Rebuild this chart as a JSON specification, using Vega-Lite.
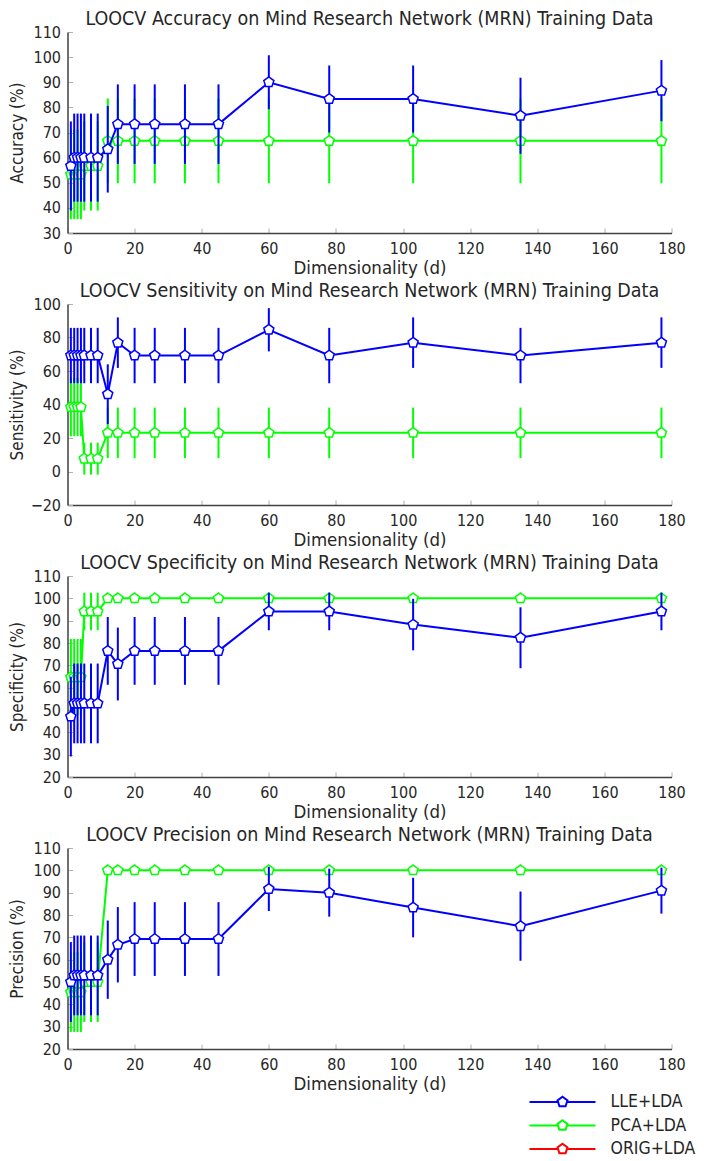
{
"$schema": "https://vega.github.io/schema/vega-lite/v6.json",
"padding": {"left": 8.5, "top": 8, "right": 5, "bottom": 1},
"background": "white",
"datasets": {"all": [
{"m":"A","s":"LLE+LDA","d":1,"v":56.67,"lo":38.93,"hi":74.40},
{"m":"A","s":"LLE+LDA","d":2,"v":60,"lo":42.47,"hi":77.53},
{"m":"A","s":"LLE+LDA","d":3,"v":60,"lo":42.47,"hi":77.53},
{"m":"A","s":"LLE+LDA","d":4,"v":60,"lo":42.47,"hi":77.53},
{"m":"A","s":"LLE+LDA","d":5,"v":60,"lo":42.47,"hi":77.53},
{"m":"A","s":"LLE+LDA","d":7,"v":60,"lo":42.47,"hi":77.53},
{"m":"A","s":"LLE+LDA","d":9,"v":60,"lo":42.47,"hi":77.53},
{"m":"A","s":"LLE+LDA","d":12,"v":63.33,"lo":46.09,"hi":80.58},
{"m":"A","s":"LLE+LDA","d":15,"v":73.33,"lo":57.51,"hi":89.16},
{"m":"A","s":"LLE+LDA","d":20,"v":73.33,"lo":57.51,"hi":89.16},
{"m":"A","s":"LLE+LDA","d":26,"v":73.33,"lo":57.51,"hi":89.16},
{"m":"A","s":"LLE+LDA","d":35,"v":73.33,"lo":57.51,"hi":89.16},
{"m":"A","s":"LLE+LDA","d":45,"v":73.33,"lo":57.51,"hi":89.16},
{"m":"A","s":"LLE+LDA","d":60,"v":90,"lo":79.26,"hi":100.74},
{"m":"A","s":"LLE+LDA","d":78,"v":83.33,"lo":70.00,"hi":96.67},
{"m":"A","s":"LLE+LDA","d":103,"v":83.33,"lo":70.00,"hi":96.67},
{"m":"A","s":"LLE+LDA","d":135,"v":76.67,"lo":61.53,"hi":91.80},
{"m":"A","s":"LLE+LDA","d":177,"v":86.67,"lo":74.50,"hi":98.83},
{"m":"A","s":"PCA+LDA","d":1,"v":53.33,"lo":35.48,"hi":71.19},
{"m":"A","s":"PCA+LDA","d":2,"v":53.33,"lo":35.48,"hi":71.19},
{"m":"A","s":"PCA+LDA","d":3,"v":53.33,"lo":35.48,"hi":71.19},
{"m":"A","s":"PCA+LDA","d":4,"v":53.33,"lo":35.48,"hi":71.19},
{"m":"A","s":"PCA+LDA","d":5,"v":56.67,"lo":38.93,"hi":74.40},
{"m":"A","s":"PCA+LDA","d":7,"v":56.67,"lo":38.93,"hi":74.40},
{"m":"A","s":"PCA+LDA","d":9,"v":56.67,"lo":38.93,"hi":74.40},
{"m":"A","s":"PCA+LDA","d":12,"v":66.67,"lo":49.80,"hi":83.54},
{"m":"A","s":"PCA+LDA","d":15,"v":66.67,"lo":49.80,"hi":83.54},
{"m":"A","s":"PCA+LDA","d":20,"v":66.67,"lo":49.80,"hi":83.54},
{"m":"A","s":"PCA+LDA","d":26,"v":66.67,"lo":49.80,"hi":83.54},
{"m":"A","s":"PCA+LDA","d":35,"v":66.67,"lo":49.80,"hi":83.54},
{"m":"A","s":"PCA+LDA","d":45,"v":66.67,"lo":49.80,"hi":83.54},
{"m":"A","s":"PCA+LDA","d":60,"v":66.67,"lo":49.80,"hi":83.54},
{"m":"A","s":"PCA+LDA","d":78,"v":66.67,"lo":49.80,"hi":83.54},
{"m":"A","s":"PCA+LDA","d":103,"v":66.67,"lo":49.80,"hi":83.54},
{"m":"A","s":"PCA+LDA","d":135,"v":66.67,"lo":49.80,"hi":83.54},
{"m":"A","s":"PCA+LDA","d":177,"v":66.67,"lo":49.80,"hi":83.54},
{"m":"Se","s":"LLE+LDA","d":1,"v":69.23,"lo":52.71,"hi":85.75},
{"m":"Se","s":"LLE+LDA","d":2,"v":69.23,"lo":52.71,"hi":85.75},
{"m":"Se","s":"LLE+LDA","d":3,"v":69.23,"lo":52.71,"hi":85.75},
{"m":"Se","s":"LLE+LDA","d":4,"v":69.23,"lo":52.71,"hi":85.75},
{"m":"Se","s":"LLE+LDA","d":5,"v":69.23,"lo":52.71,"hi":85.75},
{"m":"Se","s":"LLE+LDA","d":7,"v":69.23,"lo":52.71,"hi":85.75},
{"m":"Se","s":"LLE+LDA","d":9,"v":69.23,"lo":52.71,"hi":85.75},
{"m":"Se","s":"LLE+LDA","d":12,"v":46.15,"lo":28.31,"hi":63.99},
{"m":"Se","s":"LLE+LDA","d":15,"v":76.92,"lo":61.85,"hi":92.00},
{"m":"Se","s":"LLE+LDA","d":20,"v":69.23,"lo":52.71,"hi":85.75},
{"m":"Se","s":"LLE+LDA","d":26,"v":69.23,"lo":52.71,"hi":85.75},
{"m":"Se","s":"LLE+LDA","d":35,"v":69.23,"lo":52.71,"hi":85.75},
{"m":"Se","s":"LLE+LDA","d":45,"v":69.23,"lo":52.71,"hi":85.75},
{"m":"Se","s":"LLE+LDA","d":60,"v":84.62,"lo":71.70,"hi":97.53},
{"m":"Se","s":"LLE+LDA","d":78,"v":69.23,"lo":52.71,"hi":85.75},
{"m":"Se","s":"LLE+LDA","d":103,"v":76.92,"lo":61.85,"hi":92.00},
{"m":"Se","s":"LLE+LDA","d":135,"v":69.23,"lo":52.71,"hi":85.75},
{"m":"Se","s":"LLE+LDA","d":177,"v":76.92,"lo":61.85,"hi":92.00},
{"m":"Se","s":"PCA+LDA","d":1,"v":38.46,"lo":21.05,"hi":55.87},
{"m":"Se","s":"PCA+LDA","d":2,"v":38.46,"lo":21.05,"hi":55.87},
{"m":"Se","s":"PCA+LDA","d":3,"v":38.46,"lo":21.05,"hi":55.87},
{"m":"Se","s":"PCA+LDA","d":4,"v":38.46,"lo":21.05,"hi":55.87},
{"m":"Se","s":"PCA+LDA","d":5,"v":7.69,"lo":-1.85,"hi":17.23},
{"m":"Se","s":"PCA+LDA","d":7,"v":7.69,"lo":-1.85,"hi":17.23},
{"m":"Se","s":"PCA+LDA","d":9,"v":7.69,"lo":-1.85,"hi":17.23},
{"m":"Se","s":"PCA+LDA","d":12,"v":23.08,"lo":8.00,"hi":38.15},
{"m":"Se","s":"PCA+LDA","d":15,"v":23.08,"lo":8.00,"hi":38.15},
{"m":"Se","s":"PCA+LDA","d":20,"v":23.08,"lo":8.00,"hi":38.15},
{"m":"Se","s":"PCA+LDA","d":26,"v":23.08,"lo":8.00,"hi":38.15},
{"m":"Se","s":"PCA+LDA","d":35,"v":23.08,"lo":8.00,"hi":38.15},
{"m":"Se","s":"PCA+LDA","d":45,"v":23.08,"lo":8.00,"hi":38.15},
{"m":"Se","s":"PCA+LDA","d":60,"v":23.08,"lo":8.00,"hi":38.15},
{"m":"Se","s":"PCA+LDA","d":78,"v":23.08,"lo":8.00,"hi":38.15},
{"m":"Se","s":"PCA+LDA","d":103,"v":23.08,"lo":8.00,"hi":38.15},
{"m":"Se","s":"PCA+LDA","d":135,"v":23.08,"lo":8.00,"hi":38.15},
{"m":"Se","s":"PCA+LDA","d":177,"v":23.08,"lo":8.00,"hi":38.15},
{"m":"Sp","s":"LLE+LDA","d":1,"v":47.06,"lo":29.20,"hi":64.92},
{"m":"Sp","s":"LLE+LDA","d":2,"v":52.94,"lo":35.08,"hi":70.80},
{"m":"Sp","s":"LLE+LDA","d":3,"v":52.94,"lo":35.08,"hi":70.80},
{"m":"Sp","s":"LLE+LDA","d":4,"v":52.94,"lo":35.08,"hi":70.80},
{"m":"Sp","s":"LLE+LDA","d":5,"v":52.94,"lo":35.08,"hi":70.80},
{"m":"Sp","s":"LLE+LDA","d":7,"v":52.94,"lo":35.08,"hi":70.80},
{"m":"Sp","s":"LLE+LDA","d":9,"v":52.94,"lo":35.08,"hi":70.80},
{"m":"Sp","s":"LLE+LDA","d":12,"v":76.47,"lo":61.29,"hi":91.65},
{"m":"Sp","s":"LLE+LDA","d":15,"v":70.59,"lo":54.28,"hi":86.89},
{"m":"Sp","s":"LLE+LDA","d":20,"v":76.47,"lo":61.29,"hi":91.65},
{"m":"Sp","s":"LLE+LDA","d":26,"v":76.47,"lo":61.29,"hi":91.65},
{"m":"Sp","s":"LLE+LDA","d":35,"v":76.47,"lo":61.29,"hi":91.65},
{"m":"Sp","s":"LLE+LDA","d":45,"v":76.47,"lo":61.29,"hi":91.65},
{"m":"Sp","s":"LLE+LDA","d":60,"v":94.12,"lo":85.70,"hi":102.54},
{"m":"Sp","s":"LLE+LDA","d":78,"v":94.12,"lo":85.70,"hi":102.54},
{"m":"Sp","s":"LLE+LDA","d":103,"v":88.24,"lo":76.71,"hi":99.76},
{"m":"Sp","s":"LLE+LDA","d":135,"v":82.35,"lo":68.71,"hi":95.99},
{"m":"Sp","s":"LLE+LDA","d":177,"v":94.12,"lo":85.70,"hi":102.54},
{"m":"Sp","s":"PCA+LDA","d":1,"v":64.71,"lo":47.60,"hi":81.81},
{"m":"Sp","s":"PCA+LDA","d":2,"v":64.71,"lo":47.60,"hi":81.81},
{"m":"Sp","s":"PCA+LDA","d":3,"v":64.71,"lo":47.60,"hi":81.81},
{"m":"Sp","s":"PCA+LDA","d":4,"v":64.71,"lo":47.60,"hi":81.81},
{"m":"Sp","s":"PCA+LDA","d":5,"v":94.12,"lo":85.70,"hi":102.54},
{"m":"Sp","s":"PCA+LDA","d":7,"v":94.12,"lo":85.70,"hi":102.54},
{"m":"Sp","s":"PCA+LDA","d":9,"v":94.12,"lo":85.70,"hi":102.54},
{"m":"Sp","s":"PCA+LDA","d":12,"v":100,"lo":100,"hi":100},
{"m":"Sp","s":"PCA+LDA","d":15,"v":100,"lo":100,"hi":100},
{"m":"Sp","s":"PCA+LDA","d":20,"v":100,"lo":100,"hi":100},
{"m":"Sp","s":"PCA+LDA","d":26,"v":100,"lo":100,"hi":100},
{"m":"Sp","s":"PCA+LDA","d":35,"v":100,"lo":100,"hi":100},
{"m":"Sp","s":"PCA+LDA","d":45,"v":100,"lo":100,"hi":100},
{"m":"Sp","s":"PCA+LDA","d":60,"v":100,"lo":100,"hi":100},
{"m":"Sp","s":"PCA+LDA","d":78,"v":100,"lo":100,"hi":100},
{"m":"Sp","s":"PCA+LDA","d":103,"v":100,"lo":100,"hi":100},
{"m":"Sp","s":"PCA+LDA","d":135,"v":100,"lo":100,"hi":100},
{"m":"Sp","s":"PCA+LDA","d":177,"v":100,"lo":100,"hi":100},
{"m":"P","s":"LLE+LDA","d":1,"v":50,"lo":32.11,"hi":67.89},
{"m":"P","s":"LLE+LDA","d":2,"v":52.94,"lo":35.08,"hi":70.80},
{"m":"P","s":"LLE+LDA","d":3,"v":52.94,"lo":35.08,"hi":70.80},
{"m":"P","s":"LLE+LDA","d":4,"v":52.94,"lo":35.08,"hi":70.80},
{"m":"P","s":"LLE+LDA","d":5,"v":52.94,"lo":35.08,"hi":70.80},
{"m":"P","s":"LLE+LDA","d":7,"v":52.94,"lo":35.08,"hi":70.80},
{"m":"P","s":"LLE+LDA","d":9,"v":52.94,"lo":35.08,"hi":70.80},
{"m":"P","s":"LLE+LDA","d":12,"v":60,"lo":42.47,"hi":77.53},
{"m":"P","s":"LLE+LDA","d":15,"v":66.67,"lo":49.80,"hi":83.54},
{"m":"P","s":"LLE+LDA","d":20,"v":69.23,"lo":52.71,"hi":85.75},
{"m":"P","s":"LLE+LDA","d":26,"v":69.23,"lo":52.71,"hi":85.75},
{"m":"P","s":"LLE+LDA","d":35,"v":69.23,"lo":52.71,"hi":85.75},
{"m":"P","s":"LLE+LDA","d":45,"v":69.23,"lo":52.71,"hi":85.75},
{"m":"P","s":"LLE+LDA","d":60,"v":91.67,"lo":81.78,"hi":101.56},
{"m":"P","s":"LLE+LDA","d":78,"v":90,"lo":79.26,"hi":100.74},
{"m":"P","s":"LLE+LDA","d":103,"v":83.33,"lo":70.00,"hi":96.67},
{"m":"P","s":"LLE+LDA","d":135,"v":75,"lo":59.51,"hi":90.50},
{"m":"P","s":"LLE+LDA","d":177,"v":90.91,"lo":80.62,"hi":101.20},
{"m":"P","s":"PCA+LDA","d":1,"v":45.45,"lo":27.64,"hi":63.27},
{"m":"P","s":"PCA+LDA","d":2,"v":45.45,"lo":27.64,"hi":63.27},
{"m":"P","s":"PCA+LDA","d":3,"v":45.45,"lo":27.64,"hi":63.27},
{"m":"P","s":"PCA+LDA","d":4,"v":45.45,"lo":27.64,"hi":63.27},
{"m":"P","s":"PCA+LDA","d":5,"v":50,"lo":32.11,"hi":67.89},
{"m":"P","s":"PCA+LDA","d":7,"v":50,"lo":32.11,"hi":67.89},
{"m":"P","s":"PCA+LDA","d":9,"v":50,"lo":32.11,"hi":67.89},
{"m":"P","s":"PCA+LDA","d":12,"v":100,"lo":100,"hi":100},
{"m":"P","s":"PCA+LDA","d":15,"v":100,"lo":100,"hi":100},
{"m":"P","s":"PCA+LDA","d":20,"v":100,"lo":100,"hi":100},
{"m":"P","s":"PCA+LDA","d":26,"v":100,"lo":100,"hi":100},
{"m":"P","s":"PCA+LDA","d":35,"v":100,"lo":100,"hi":100},
{"m":"P","s":"PCA+LDA","d":45,"v":100,"lo":100,"hi":100},
{"m":"P","s":"PCA+LDA","d":60,"v":100,"lo":100,"hi":100},
{"m":"P","s":"PCA+LDA","d":78,"v":100,"lo":100,"hi":100},
{"m":"P","s":"PCA+LDA","d":103,"v":100,"lo":100,"hi":100},
{"m":"P","s":"PCA+LDA","d":135,"v":100,"lo":100,"hi":100},
{"m":"P","s":"PCA+LDA","d":177,"v":100,"lo":100,"hi":100}
]},
"data": {"name": "all"},
"resolve": {"legend": {"color": "independent"}},
"vconcat": [
{
 "title": "LOOCV Accuracy on Mind Research Network (MRN) Training Data",
 "width": 604, "height": 201,
 "transform": [{"filter": "datum.m == 'A'"}],
 "encoding": {
  "x": {"field": "d", "type": "quantitative", "scale": {"domain": [0, 180], "nice": false}, "axis": {"values": [0,20,40,60,80,100,120,140,160,180], "title": "Dimensionality (d)"}},
  "color": {"field": "s", "type": "nominal", "scale": {"domain": ["LLE+LDA","PCA+LDA","ORIG+LDA"], "range": ["#0000ff","#00ff00","#ff0000"]}, "legend": null}
 },
 "layer": [
  {"transform": [{"filter": "datum.s == 'PCA+LDA'"}], "mark": {"type": "rule", "strokeWidth": 2}, "encoding": {"y": {"field": "lo", "type": "quantitative", "title": "Accuracy (%)", "scale": {"domain": [30, 110], "nice": false}, "axis": {"values": [30,40,50,60,70,80,90,100,110]}}, "y2": {"field": "hi"}}},
  {"transform": [{"filter": "datum.s == 'PCA+LDA'"}], "mark": {"type": "line", "strokeWidth": 2}, "encoding": {"y": {"field": "v", "type": "quantitative", "title": "Accuracy (%)", "scale": {"domain": [30, 110], "nice": false}, "axis": {"values": [30,40,50,60,70,80,90,100,110]}}}},
  {"transform": [{"filter": "datum.s == 'PCA+LDA'"}], "mark": {"type": "point", "shape": "M0,-1L0.951,-0.309L0.588,0.809L-0.588,0.809L-0.951,-0.309Z", "size": 112, "filled": false, "fill": "white", "strokeWidth": 1.5, "opacity": 1}, "encoding": {"y": {"field": "v", "type": "quantitative", "title": "Accuracy (%)", "scale": {"domain": [30, 110], "nice": false}, "axis": {"values": [30,40,50,60,70,80,90,100,110]}}}},
  {"transform": [{"filter": "datum.s == 'LLE+LDA'"}], "mark": {"type": "rule", "strokeWidth": 2}, "encoding": {"y": {"field": "lo", "type": "quantitative", "title": "Accuracy (%)", "scale": {"domain": [30, 110], "nice": false}, "axis": {"values": [30,40,50,60,70,80,90,100,110]}}, "y2": {"field": "hi"}}},
  {"transform": [{"filter": "datum.s == 'LLE+LDA'"}], "mark": {"type": "line", "strokeWidth": 2}, "encoding": {"y": {"field": "v", "type": "quantitative", "title": "Accuracy (%)", "scale": {"domain": [30, 110], "nice": false}, "axis": {"values": [30,40,50,60,70,80,90,100,110]}}}},
  {"transform": [{"filter": "datum.s == 'LLE+LDA'"}], "mark": {"type": "point", "shape": "M0,-1L0.951,-0.309L0.588,0.809L-0.588,0.809L-0.951,-0.309Z", "size": 112, "filled": false, "fill": "white", "strokeWidth": 1.5, "opacity": 1}, "encoding": {"y": {"field": "v", "type": "quantitative", "title": "Accuracy (%)", "scale": {"domain": [30, 110], "nice": false}, "axis": {"values": [30,40,50,60,70,80,90,100,110]}}}}
 ]
},
{
 "title": "LOOCV Sensitivity on Mind Research Network (MRN) Training Data",
 "width": 604, "height": 201,
 "transform": [{"filter": "datum.m == 'Se'"}],
 "encoding": {
  "x": {"field": "d", "type": "quantitative", "scale": {"domain": [0, 180], "nice": false}, "axis": {"values": [0,20,40,60,80,100,120,140,160,180], "title": "Dimensionality (d)"}},
  "color": {"field": "s", "type": "nominal", "scale": {"domain": ["LLE+LDA","PCA+LDA","ORIG+LDA"], "range": ["#0000ff","#00ff00","#ff0000"]}, "legend": null}
 },
 "layer": [
  {"transform": [{"filter": "datum.s == 'PCA+LDA'"}], "mark": {"type": "rule", "strokeWidth": 2}, "encoding": {"y": {"field": "lo", "type": "quantitative", "title": "Sensitivity (%)", "scale": {"domain": [-20, 100], "nice": false}, "axis": {"values": [-20,0,20,40,60,80,100]}}, "y2": {"field": "hi"}}},
  {"transform": [{"filter": "datum.s == 'PCA+LDA'"}], "mark": {"type": "line", "strokeWidth": 2}, "encoding": {"y": {"field": "v", "type": "quantitative", "title": "Sensitivity (%)", "scale": {"domain": [-20, 100], "nice": false}, "axis": {"values": [-20,0,20,40,60,80,100]}}}},
  {"transform": [{"filter": "datum.s == 'PCA+LDA'"}], "mark": {"type": "point", "shape": "M0,-1L0.951,-0.309L0.588,0.809L-0.588,0.809L-0.951,-0.309Z", "size": 112, "filled": false, "fill": "white", "strokeWidth": 1.5, "opacity": 1}, "encoding": {"y": {"field": "v", "type": "quantitative", "title": "Sensitivity (%)", "scale": {"domain": [-20, 100], "nice": false}, "axis": {"values": [-20,0,20,40,60,80,100]}}}},
  {"transform": [{"filter": "datum.s == 'LLE+LDA'"}], "mark": {"type": "rule", "strokeWidth": 2}, "encoding": {"y": {"field": "lo", "type": "quantitative", "title": "Sensitivity (%)", "scale": {"domain": [-20, 100], "nice": false}, "axis": {"values": [-20,0,20,40,60,80,100]}}, "y2": {"field": "hi"}}},
  {"transform": [{"filter": "datum.s == 'LLE+LDA'"}], "mark": {"type": "line", "strokeWidth": 2}, "encoding": {"y": {"field": "v", "type": "quantitative", "title": "Sensitivity (%)", "scale": {"domain": [-20, 100], "nice": false}, "axis": {"values": [-20,0,20,40,60,80,100]}}}},
  {"transform": [{"filter": "datum.s == 'LLE+LDA'"}], "mark": {"type": "point", "shape": "M0,-1L0.951,-0.309L0.588,0.809L-0.588,0.809L-0.951,-0.309Z", "size": 112, "filled": false, "fill": "white", "strokeWidth": 1.5, "opacity": 1}, "encoding": {"y": {"field": "v", "type": "quantitative", "title": "Sensitivity (%)", "scale": {"domain": [-20, 100], "nice": false}, "axis": {"values": [-20,0,20,40,60,80,100]}}}}
 ]
},
{
 "title": "LOOCV Specificity on Mind Research Network (MRN) Training Data",
 "width": 604, "height": 201,
 "transform": [{"filter": "datum.m == 'Sp'"}],
 "encoding": {
  "x": {"field": "d", "type": "quantitative", "scale": {"domain": [0, 180], "nice": false}, "axis": {"values": [0,20,40,60,80,100,120,140,160,180], "title": "Dimensionality (d)"}},
  "color": {"field": "s", "type": "nominal", "scale": {"domain": ["LLE+LDA","PCA+LDA","ORIG+LDA"], "range": ["#0000ff","#00ff00","#ff0000"]}, "legend": null}
 },
 "layer": [
  {"transform": [{"filter": "datum.s == 'PCA+LDA'"}], "mark": {"type": "rule", "strokeWidth": 2}, "encoding": {"y": {"field": "lo", "type": "quantitative", "title": "Specificity (%)", "scale": {"domain": [20, 110], "nice": false}, "axis": {"values": [20,30,40,50,60,70,80,90,100,110]}}, "y2": {"field": "hi"}}},
  {"transform": [{"filter": "datum.s == 'PCA+LDA'"}], "mark": {"type": "line", "strokeWidth": 2}, "encoding": {"y": {"field": "v", "type": "quantitative", "title": "Specificity (%)", "scale": {"domain": [20, 110], "nice": false}, "axis": {"values": [20,30,40,50,60,70,80,90,100,110]}}}},
  {"transform": [{"filter": "datum.s == 'PCA+LDA'"}], "mark": {"type": "point", "shape": "M0,-1L0.951,-0.309L0.588,0.809L-0.588,0.809L-0.951,-0.309Z", "size": 112, "filled": false, "fill": "white", "strokeWidth": 1.5, "opacity": 1}, "encoding": {"y": {"field": "v", "type": "quantitative", "title": "Specificity (%)", "scale": {"domain": [20, 110], "nice": false}, "axis": {"values": [20,30,40,50,60,70,80,90,100,110]}}}},
  {"transform": [{"filter": "datum.s == 'LLE+LDA'"}], "mark": {"type": "rule", "strokeWidth": 2}, "encoding": {"y": {"field": "lo", "type": "quantitative", "title": "Specificity (%)", "scale": {"domain": [20, 110], "nice": false}, "axis": {"values": [20,30,40,50,60,70,80,90,100,110]}}, "y2": {"field": "hi"}}},
  {"transform": [{"filter": "datum.s == 'LLE+LDA'"}], "mark": {"type": "line", "strokeWidth": 2}, "encoding": {"y": {"field": "v", "type": "quantitative", "title": "Specificity (%)", "scale": {"domain": [20, 110], "nice": false}, "axis": {"values": [20,30,40,50,60,70,80,90,100,110]}}}},
  {"transform": [{"filter": "datum.s == 'LLE+LDA'"}], "mark": {"type": "point", "shape": "M0,-1L0.951,-0.309L0.588,0.809L-0.588,0.809L-0.951,-0.309Z", "size": 112, "filled": false, "fill": "white", "strokeWidth": 1.5, "opacity": 1}, "encoding": {"y": {"field": "v", "type": "quantitative", "title": "Specificity (%)", "scale": {"domain": [20, 110], "nice": false}, "axis": {"values": [20,30,40,50,60,70,80,90,100,110]}}}}
 ]
},
{
 "title": "LOOCV Precision on Mind Research Network (MRN) Training Data",
 "width": 604, "height": 201,
 "transform": [{"filter": "datum.m == 'P'"}],
 "encoding": {
  "x": {"field": "d", "type": "quantitative", "scale": {"domain": [0, 180], "nice": false}, "axis": {"values": [0,20,40,60,80,100,120,140,160,180], "title": "Dimensionality (d)"}},
  "color": {"field": "s", "type": "nominal", "scale": {"domain": ["LLE+LDA","PCA+LDA","ORIG+LDA"], "range": ["#0000ff","#00ff00","#ff0000"]},
   "legend": {"orient": "none", "legendX": 461, "legendY": 243.5, "title": null, "padding": 0, "offset": 0,
     "symbolType": "M-1,0H-0.135M0.135,0H1M0,-0.159L0.151,-0.049L0.093,0.129L-0.093,0.129L-0.151,-0.049Z",
     "symbolSize": 4356, "symbolStrokeWidth": 2, "symbolFillColor": "white", "symbolOpacity": 1,
     "labelFontSize": 17.5, "labelOffset": 14, "labelColor": "#262626", "clipHeight": 21, "rowPadding": 2.5}}
 },
 "layer": [
  {"transform": [{"filter": "datum.s == 'PCA+LDA'"}], "mark": {"type": "rule", "strokeWidth": 2}, "encoding": {"y": {"field": "lo", "type": "quantitative", "title": "Precision (%)", "scale": {"domain": [20, 110], "nice": false}, "axis": {"values": [20,30,40,50,60,70,80,90,100,110]}}, "y2": {"field": "hi"}}},
  {"transform": [{"filter": "datum.s == 'PCA+LDA'"}], "mark": {"type": "line", "strokeWidth": 2}, "encoding": {"y": {"field": "v", "type": "quantitative", "title": "Precision (%)", "scale": {"domain": [20, 110], "nice": false}, "axis": {"values": [20,30,40,50,60,70,80,90,100,110]}}}},
  {"transform": [{"filter": "datum.s == 'PCA+LDA'"}], "mark": {"type": "point", "shape": "M0,-1L0.951,-0.309L0.588,0.809L-0.588,0.809L-0.951,-0.309Z", "size": 112, "filled": false, "fill": "white", "strokeWidth": 1.5, "opacity": 1}, "encoding": {"y": {"field": "v", "type": "quantitative", "title": "Precision (%)", "scale": {"domain": [20, 110], "nice": false}, "axis": {"values": [20,30,40,50,60,70,80,90,100,110]}}}},
  {"transform": [{"filter": "datum.s == 'LLE+LDA'"}], "mark": {"type": "rule", "strokeWidth": 2}, "encoding": {"y": {"field": "lo", "type": "quantitative", "title": "Precision (%)", "scale": {"domain": [20, 110], "nice": false}, "axis": {"values": [20,30,40,50,60,70,80,90,100,110]}}, "y2": {"field": "hi"}}},
  {"transform": [{"filter": "datum.s == 'LLE+LDA'"}], "mark": {"type": "line", "strokeWidth": 2}, "encoding": {"y": {"field": "v", "type": "quantitative", "title": "Precision (%)", "scale": {"domain": [20, 110], "nice": false}, "axis": {"values": [20,30,40,50,60,70,80,90,100,110]}}}},
  {"transform": [{"filter": "datum.s == 'LLE+LDA'"}], "mark": {"type": "point", "shape": "M0,-1L0.951,-0.309L0.588,0.809L-0.588,0.809L-0.951,-0.309Z", "size": 112, "filled": false, "fill": "white", "strokeWidth": 1.5, "opacity": 1}, "encoding": {"y": {"field": "v", "type": "quantitative", "title": "Precision (%)", "scale": {"domain": [20, 110], "nice": false}, "axis": {"values": [20,30,40,50,60,70,80,90,100,110]}}}}
 ]
}
],
"config": {
 "font": "DejaVu Sans Condensed, DejaVu Sans",
 "view": {"stroke": null},
 "concat": {"spacing": 3},
 "axis": {"domainColor": "#404040", "domainWidth": 1.5, "tickColor": "#b0b0b0", "tickSize": -5, "tickWidth": 1, "labelFontSize": 16, "labelColor": "#262626", "titleFontWeight": "normal", "titleColor": "#262626", "grid": false, "labelFlush": false, "labelOverlap": false},
 "axisX": {"labelPadding": 12, "titlePadding": 2, "titleFontSize": 18.5},
 "axisY": {"labelPadding": 12, "titlePadding": 4, "minExtent": 37, "maxExtent": 37, "titleFontSize": 17},
 "title": {"fontSize": 19.5, "fontWeight": "normal", "color": "#262626", "offset": -5},
 "legend": {"labelFont": "DejaVu Sans Condensed, DejaVu Sans"}
}
}
